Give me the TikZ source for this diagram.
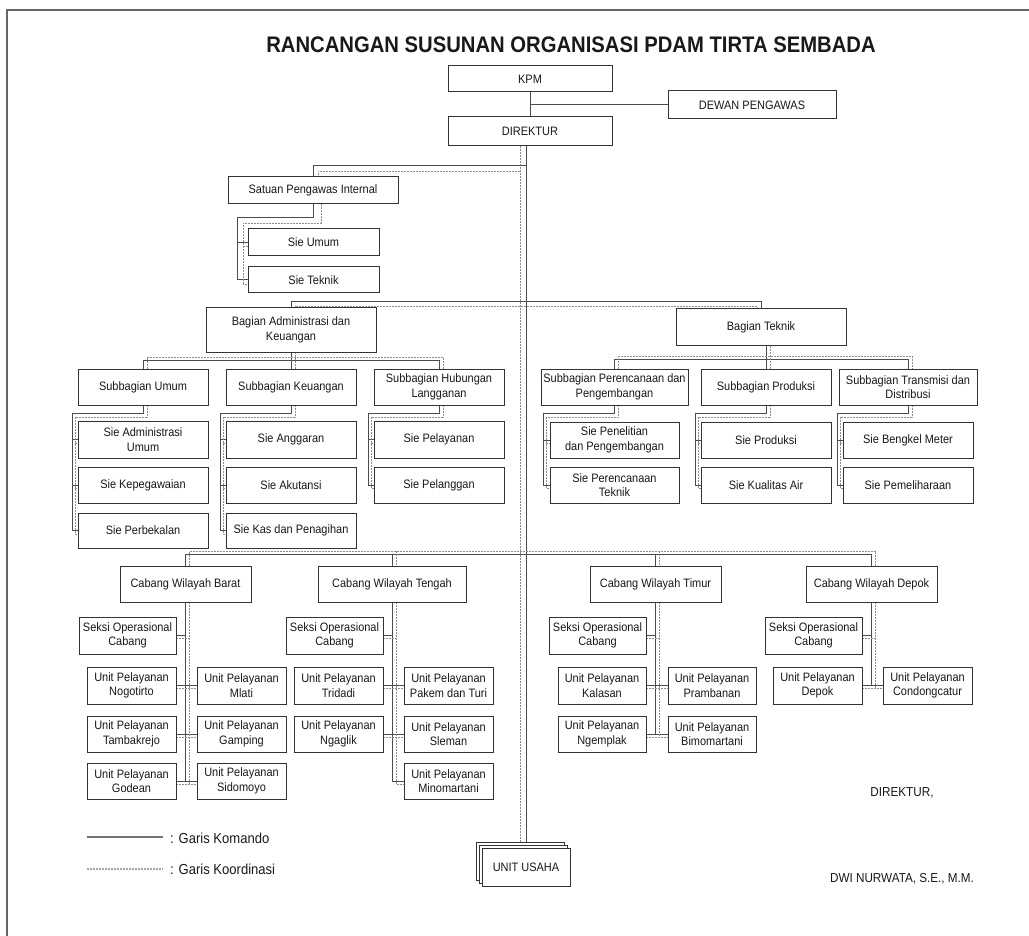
\documentclass[tikz,border=0pt]{standalone}
\usepackage{fontspec}
\setmainfont{Liberation Sans}[FakeStretch=0.9]
\usetikzlibrary{backgrounds,calc}
\newcommand{\lbl}{\fontsize{12.2}{14.5}\selectfont}
\newcommand{\obox}[6]{\node[box,minimum width={(#4)-(#2)},minimum height={(#5)-(#3)}] (#1) at ({((#2)+(#4))/2},{((#3)+(#5))/2}) {#6};}
\tikzset{
  box/.style={draw=black!80, line width=1pt, fill=white, inner sep=0pt, align=center, font=\lbl, text=black!90},
  kom/.style={draw=black!70, line width=1pt},
  koo/.style={draw=black!45, line width=0.8pt, dash pattern=on 2pt off 1pt},
  legk/.style={draw=black!55, line width=1.8pt},
  lego/.style={draw=black!35, line width=1.6pt, dash pattern=on 2pt off 1pt},
  frame/.style={draw=black!60, line width=1.5pt},
  plain/.style={inner sep=0pt, text=black!90},
}
\begin{document}
\begin{tikzpicture}[x={(1pt,0pt)}, y={(0pt,-1pt)}]
\useasboundingbox (0,0) rectangle (1029,936);
\node[plain, font=\fontsize{22.5}{26}\selectfont\bfseries] (title) at (571,45) {RANCANGAN SUSUNAN ORGANISASI PDAM TIRTA SEMBADA};
\obox{kpm}{448}{66}{612}{92}{KPM}
\obox{dewan}{668}{91}{836}{119}{DEWAN PENGAWAS}
\obox{dir}{448}{117}{612}{146}{DIREKTUR}
\obox{spi}{228}{177}{398}{204}{Satuan Pengawas Internal}
\obox{sieumum}{248}{229}{379}{256}{Sie Umum}
\obox{sietek}{248}{267}{379}{293}{Sie Teknik}
\obox{bak}{206}{308}{376}{352}{Bagian Administrasi dan\\Keuangan}
\obox{bt}{676}{309}{846}{346}{Bagian Teknik}
\obox{sbu}{78}{369}{208}{405}{Subbagian Umum}
\obox{sbk}{226}{369}{356}{405}{Subbagian Keuangan}
\obox{sbh}{374}{369}{504}{405}{Subbagian Hubungan\\Langganan}
\obox{sbp}{541}{369}{688}{405}{Subbagian Perencanaan dan\\Pengembangan}
\obox{sbpr}{701}{369}{831}{405}{Subbagian Produksi}
\obox{sbt}{839}{369}{977}{405}{Subbagian Transmisi dan\\Distribusi}
\obox{s1}{78}{421}{208}{458}{Sie Administrasi\\Umum}
\obox{s2}{78}{467}{208}{503}{Sie Kepegawaian}
\obox{s3}{78}{513}{208}{548}{Sie Perbekalan}
\obox{s4}{226}{421}{356}{458}{Sie Anggaran}
\obox{s5}{226}{467}{356}{503}{Sie Akutansi}
\obox{s6}{226}{513}{356}{548}{Sie Kas dan Penagihan}
\obox{s7}{374}{421}{504}{458}{Sie Pelayanan}
\obox{s8}{374}{467}{504}{503}{Sie Pelanggan}
\obox{s9}{550}{422}{679}{458}{Sie Penelitian\\dan Pengembangan}
\obox{s10}{550}{467}{679}{503}{Sie Perencanaan\\Teknik}
\obox{s11}{701}{422}{831}{458}{Sie Produksi}
\obox{s12}{701}{467}{831}{503}{Sie Kualitas Air}
\obox{s13}{843}{422}{973}{458}{Sie Bengkel Meter}
\obox{s14}{843}{467}{973}{503}{Sie Pemeliharaan}
\obox{cwb}{120}{566}{251}{602}{Cabang Wilayah Barat}
\obox{cwt}{318}{566}{466}{602}{Cabang Wilayah Tengah}
\obox{cwti}{590}{566}{721}{602}{Cabang Wilayah Timur}
\obox{cwd}{806}{566}{937}{602}{Cabang Wilayah Depok}
\obox{sob}{79}{617}{176}{654}{Seksi Operasional\\Cabang}
\obox{u1}{87}{667}{176}{704}{Unit Pelayanan\\Nogotirto}
\obox{u2}{197}{667}{286}{704}{Unit Pelayanan\\Mlati}
\obox{u3}{87}{716}{176}{752}{Unit Pelayanan\\Tambakrejo}
\obox{u4}{197}{716}{286}{752}{Unit Pelayanan\\Gamping}
\obox{u5}{87}{763}{176}{799}{Unit Pelayanan\\Godean}
\obox{u6}{197}{763}{286}{799}{Unit Pelayanan\\Sidomoyo}
\obox{sot}{286}{617}{383}{654}{Seksi Operasional\\Cabang}
\obox{u7}{294}{667}{383}{704}{Unit Pelayanan\\Tridadi}
\obox{u8}{404}{667}{493}{704}{Unit Pelayanan\\Pakem dan Turi}
\obox{u9}{294}{716}{383}{752}{Unit Pelayanan\\Ngaglik}
\obox{u10}{404}{716}{493}{752}{Unit Pelayanan\\Sleman}
\obox{u11}{404}{763}{493}{799}{Unit Pelayanan\\Minomartani}
\obox{soti}{549}{617}{646}{654}{Seksi Operasional\\Cabang}
\obox{u12}{558}{667}{646}{704}{Unit Pelayanan\\Kalasan}
\obox{u13}{668}{667}{756}{704}{Unit Pelayanan\\Prambanan}
\obox{u14}{558}{716}{646}{752}{Unit Pelayanan\\Ngemplak}
\obox{u15}{668}{716}{756}{752}{Unit Pelayanan\\Bimomartani}
\obox{sod}{765}{617}{862}{654}{Seksi Operasional\\Cabang}
\obox{u16}{773}{667}{862}{704}{Unit Pelayanan\\Depok}
\obox{u17}{883}{667}{972}{704}{Unit Pelayanan\\Condongcatur}
\obox{usaha3}{476}{842}{564}{880}{}
\obox{usaha2}{479}{845}{567}{883}{}
\obox{usaha}{482}{848}{570}{886}{UNIT USAHA}
\node[plain, anchor=west, font=\fontsize{14.5}{17}\selectfont] (lkt) at (170,838) {: Garis Komando};
\node[plain, anchor=west, font=\fontsize{14.5}{17}\selectfont] (lot) at (170,869) {: Garis Koordinasi};
\node[plain, font=\fontsize{13}{15}\selectfont] (sigt) at (902,793) {DIREKTUR,};
\node[plain, font=\fontsize{13}{15}\selectfont] (sign) at (902,879) {DWI NURWATA, S.E., M.M.};
\begin{pgfonlayer}{background}
\draw[frame] (7,936) -- (7,10) -- (1029,10);
\draw[legk] ($(lkt.west)+(-83,-1)$) -- ($(lkt.west)+(-7,-1)$);
\draw[lego] ($(lot.west)+(-83,0)$) -- ($(lot.west)+(-7,0)$);
% top
\draw[kom] (kpm.south) -- (dir.north);
\draw[kom] (530,105) -- (dewan.west);
\draw[kom] ($(dir.south)+(-4,0)$) -- (usaha.north);
\draw[koo] ($(dir.south)+(-10,0)$) -- (usaha3.north);
% SPI
\draw[kom] (526,166) -| (spi.north);
\draw[koo] (520,171) -| ($(spi.north)+(5,0)$);
\draw[kom] (spi.south) -- (313,218) -| (237,280) -- (sietek.west);
\draw[kom] (237,242.5) -- (sieumum.west);
\draw[koo] ($(spi.south)+(8,0)$) -- (321,223) -| (243,284) -- (248,284);
\draw[koo] (243,246.5) -- (248,246.5);
% BAK / BT
\draw[kom] (bak.north) -- (291,302) -- (761,302) -- (bt.north);
\draw[koo] (295,308) -- (295,306) -- (757,306) -- (757,309);
% BAK children
\draw[kom] (sbu.north) -- (143,360) -- (439,360) -- (sbh.north);
\draw[kom] (bak.south) -- (sbk.north);
\draw[koo] (147,369) -- (147,357) -- (443,357) -- (443,369);
\draw[koo] (295,352) -- (295,369);
% BT children
\draw[kom] (sbp.north) -- (614.5,359) -- (908,359) -- (sbt.north);
\draw[kom] (766,346) -- (sbpr.north);
\draw[koo] (618.5,369) -- (618.5,356) -- (912,356) -- (912,369);
\draw[koo] (770,346) -- (770,369);
% Sie groups
\draw[kom] (sbu.south) -- (143,413) -| (72,530.5) -- (s3.west);
\draw[kom] (72,439.5) -- (s1.west);
\draw[kom] (72,485) -- (s2.west);
\draw[koo] (147,405) -- (147,417) -| (75,534) -- (78,534);
\draw[koo] (75,443) -- (78,443);
\draw[koo] (75,488) -- (78,488);
\draw[kom] (sbk.south) -- (291,413) -| (220,530.5) -- (s6.west);
\draw[kom] (220,439.5) -- (s4.west);
\draw[kom] (220,485) -- (s5.west);
\draw[koo] (295,405) -- (295,417) -| (223,534) -- (226,534);
\draw[koo] (223,443) -- (226,443);
\draw[koo] (223,488) -- (226,488);
\draw[kom] (sbh.south) -- (439,413) -| (368,485) -- (s8.west);
\draw[kom] (368,439.5) -- (s7.west);
\draw[koo] (443,405) -- (443,417) -| (371,488) -- (374,488);
\draw[koo] (371,443) -- (374,443);
\draw[kom] (sbp.south) -- (614.5,413) -| (543,485) -- (s10.west);
\draw[kom] (543,440) -- (s9.west);
\draw[koo] (618.5,405) -- (618.5,417) -| (546,488) -- (550,488);
\draw[koo] (546,443) -- (550,443);
\draw[kom] (sbpr.south) -- (766,413) -| (695,485) -- (s12.west);
\draw[kom] (695,440) -- (s11.west);
\draw[koo] (770,405) -- (770,417) -| (698,488) -- (701,488);
\draw[koo] (698,443) -- (701,443);
\draw[kom] (sbt.south) -- (908,413) -| (837,485) -- (s14.west);
\draw[kom] (837,440) -- (s13.west);
\draw[koo] (912,405) -- (912,417) -| (840,488) -- (843,488);
\draw[koo] (840,443) -- (843,443);
% Cabang
\draw[kom] (cwb.north) -- (185.5,554) -- (871.5,554) -- (cwd.north);
\draw[kom] (392,554) -- (cwt.north);
\draw[kom] (655.5,554) -- (cwti.north);
\draw[koo] (189.5,566) -- (189.5,551) -- (875.5,551) -- (875.5,566);
\draw[koo] (396,551) -- (396,566);
\draw[koo] (659.5,551) -- (659.5,566);
% Barat
\draw[kom] (cwb.south) -- (185.5,781);
\draw[kom] (sob.east) -- (185.5,635.5);
\draw[kom] (u1.east) -- (u2.west);
\draw[kom] (u3.east) -- (u4.west);
\draw[kom] (u5.east) -- (u6.west);
\draw[koo] (189.5,602) -- (189.5,784);
\draw[koo] (176,638.5) -- (189.5,638.5);
\draw[koo] (176,688.5) -- (197,688.5);
\draw[koo] (176,737) -- (197,737);
\draw[koo] (176,784) -- (197,784);
% Tengah
\draw[kom] (cwt.south) -- (392,781) -- (u11.west);
\draw[kom] (sot.east) -- (392,635.5);
\draw[kom] (u7.east) -- (u8.west);
\draw[kom] (u9.east) -- (u10.west);
\draw[koo] (396,602) -- (396,784) -- (404,784);
\draw[koo] (383,638.5) -- (396,638.5);
\draw[koo] (383,688.5) -- (404,688.5);
\draw[koo] (383,737) -- (404,737);
% Timur
\draw[kom] (cwti.south) -- (655.5,734);
\draw[kom] (soti.east) -- (655.5,635.5);
\draw[kom] (u12.east) -- (u13.west);
\draw[kom] (u14.east) -- (u15.west);
\draw[koo] (659.5,602) -- (659.5,737);
\draw[koo] (646,638.5) -- (659.5,638.5);
\draw[koo] (646,688.5) -- (668,688.5);
\draw[koo] (646,737) -- (668,737);
% Depok
\draw[kom] (cwd.south) -- (871.5,685.5);
\draw[kom] (sod.east) -- (871.5,635.5);
\draw[kom] (u16.east) -- (u17.west);
\draw[koo] (875.5,602) -- (875.5,688.5);
\draw[koo] (862,638.5) -- (875.5,638.5);
\draw[koo] (862,688.5) -- (883,688.5);
\end{pgfonlayer}
\end{tikzpicture}
\end{document}
